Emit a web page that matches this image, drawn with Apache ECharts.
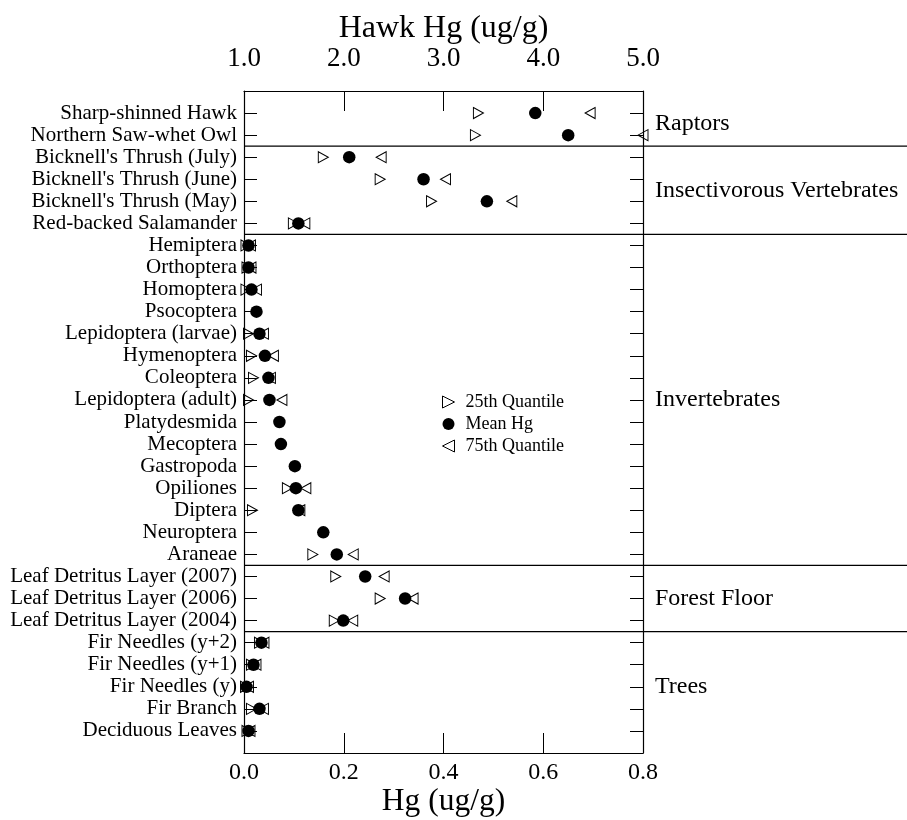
<!DOCTYPE html>
<html>
<head>
<meta charset="utf-8">
<script src="https://cdn.jsdelivr.net/npm/echarts@6/dist/echarts.min.js"></script>
<style>html,body{margin:0;padding:0;background:#fff;}#c{width:907px;height:820px;}</style>
</head>
<body>
<div id="c"></div>
<script>
const categories = ["Sharp-shinned Hawk","Northern Saw-whet Owl","Bicknell's Thrush (July)","Bicknell's Thrush (June)","Bicknell's Thrush (May)","Red-backed Salamander","Hemiptera","Orthoptera","Homoptera","Psocoptera","Lepidoptera (larvae)","Hymenoptera","Coleoptera","Lepidoptera (adult)","Platydesmida","Mecoptera","Gastropoda","Opiliones","Diptera","Neuroptera","Araneae","Leaf Detritus Layer (2007)","Leaf Detritus Layer (2006)","Leaf Detritus Layer (2004)","Fir Needles (y+2)","Fir Needles (y+1)","Fir Needles (y)","Fir Branch","Deciduous Leaves"];
// Raptors (first 2 rows) are on the Hawk Hg (top) axis
const q25 = [3.35,3.32, 0.159,0.273,0.376,0.099, 0.004,0.006,0.004,null,0.009,0.015,0.019,0.009,null,null,null,0.087,0.017,null,0.138, 0.184,0.273,0.181, 0.031,0.015,0.003,0.015,0.006];
const meanHg = [3.92,4.25, 0.211,0.360,0.487,0.109, 0.009,0.009,0.015,0.025,0.031,0.042,0.049,0.051,0.071,0.074,0.102,0.104,0.109,0.159,0.186, 0.243,0.323,0.199, 0.035,0.019,0.005,0.031,0.009];
const q75 = [4.47,5.0, 0.275,0.404,0.537,0.122, 0.013,0.014,0.025,null,0.039,0.059,0.053,0.076,null,null,null,0.124,0.112,null,0.219, 0.281,0.339,0.218, 0.040,0.024,0.009,0.039,0.012];
const groups = ["Raptors","Insectivorous Vertebrates","Invertebrates","Forest Floor","Trees"];
const groupSizes = [2,4,15,3,5];
const hawkRows = 2;

const FONT = "Liberation Serif";
const rightTri = 'path://M0,0 L10,5 L0,10 Z';
const leftTri = 'path://M10,0 L0,5 L10,10 Z';

function pts(arr, hawk) {
  const out = [];
  arr.forEach((v, i) => {
    if (v == null) return;
    if (hawk ? i < hawkRows : i >= hawkRows) out.push([v, i]);
  });
  return out;
}
const openStyle = {color: 'rgba(255,255,255,0)', borderColor: '#000', borderWidth: 1, opacity: 1};
function mk(name, arr, hawk, symbol, size, style) {
  return {
    name: name, type: 'scatter', xAxisIndex: hawk ? 1 : 0, yAxisIndex: 0,
    symbol: symbol, symbolSize: size, itemStyle: style, clip: false,
    data: pts(arr, hawk), emphasis: {disabled: true}, z: symbol === 'circle' ? 3 : 2
  };
}
const series = [];
[false, true].forEach(h => {
  series.push(mk('25th Quantile', q25, h, rightTri, [10, 11], openStyle));
  series.push(mk('Mean Hg', meanHg, h, 'circle', 12.5, {color: '#000', opacity: 1}));
  series.push(mk('75th Quantile', q75, h, leftTri, [10, 11], openStyle));
});

const chart = echarts.init(document.getElementById('c'), null, {renderer: 'canvas'});
const axisCommon = {
  axisLine: {show: true, onZero: false, lineStyle: {color: '#000', width: 1.2}},
  splitLine: {show: false},
};
chart.setOption({
  animation: false,
  backgroundColor: '#fff',
  textStyle: {fontFamily: FONT},
  grid: {left: 244, right: 264, top: 91, bottom: 67, containLabel: false, outerBoundsMode: 'none'},
  legend: {
    orient: 'vertical', left: 437, top: 388, itemGap: 4, itemWidth: 12, itemHeight: 12,
    data: ['25th Quantile', 'Mean Hg', '75th Quantile'],
    itemStyle: {borderWidth: 1},
    textStyle: {fontFamily: FONT, fontSize: 18, color: '#000', padding: [0, 0, 0, 6]},
    selectedMode: false
  },
  xAxis: [
    Object.assign({
      type: 'value', position: 'bottom', min: 0, max: 0.8, interval: 0.2,
      name: 'Hg (ug/g)', nameLocation: 'middle', nameGap: 33, nameMoveOverlap: false,
      nameTextStyle: {fontFamily: FONT, fontSize: 31.5, color: '#000'},
      axisTick: {show: true, inside: true, length: 20, lineStyle: {color: '#000'}},
      axisLabel: {fontFamily: FONT, fontSize: 24, color: '#000', margin: 8, formatter: v => v.toFixed(1)}
    }, axisCommon),
    Object.assign({
      type: 'value', position: 'top', min: 1, max: 5, interval: 1,
      name: 'Hawk Hg (ug/g)', nameLocation: 'middle', nameGap: 46, nameMoveOverlap: false,
      nameTextStyle: {fontFamily: FONT, fontSize: 32, color: '#000'},
      axisTick: {show: true, inside: true, length: 20, lineStyle: {color: '#000'}},
      axisLabel: {fontFamily: FONT, fontSize: 27, color: '#000', margin: 19, formatter: v => v.toFixed(1)}
    }, axisCommon)
  ],
  yAxis: [
    Object.assign({
      type: 'value', inverse: true, min: -1, max: 29, interval: 1, position: 'left',
      axisTick: {show: true, inside: true, length: 13, lineStyle: {color: '#000'}},
      axisLabel: {fontFamily: FONT, fontSize: 21, color: '#000', margin: 7,
        formatter: v => (v >= 0 && v < categories.length) ? categories[v] : ''}
    }, axisCommon),
    Object.assign({
      type: 'value', inverse: true, min: -1, max: 29, interval: 1, position: 'right',
      axisTick: {show: true, inside: true, length: 13, lineStyle: {color: '#000'}},
      axisLabel: {show: false}
    }, axisCommon)
  ],
  series: series
});

// group separators and group labels
const graphics = [];
let start = 0;
const rightEdge = 907;
const x0 = chart.convertToPixel({xAxisIndex: 0}, 0);
const x1 = chart.convertToPixel({xAxisIndex: 0}, 0.8);
groups.forEach((g, gi) => {
  const n = groupSizes[gi];
  const mid = start + (n - 1) / 2;
  const yMid = chart.convertToPixel({yAxisIndex: 0}, mid);
  graphics.push({type: 'text', x: x1 + 12, y: yMid,
    style: {text: g, fontFamily: FONT, fontSize: 24, fill: '#000', verticalAlign: 'middle', align: 'left'}});
  if (gi < groups.length - 1) {
    const ySep = chart.convertToPixel({yAxisIndex: 0}, start + n - 0.5);
    graphics.push({type: 'line', shape: {x1: x0, y1: ySep, x2: rightEdge, y2: ySep},
      style: {stroke: '#000', lineWidth: 1.2}, z: 10});
  }
  start += n;
});
chart.setOption({graphic: graphics});
</script>
</body>
</html>
